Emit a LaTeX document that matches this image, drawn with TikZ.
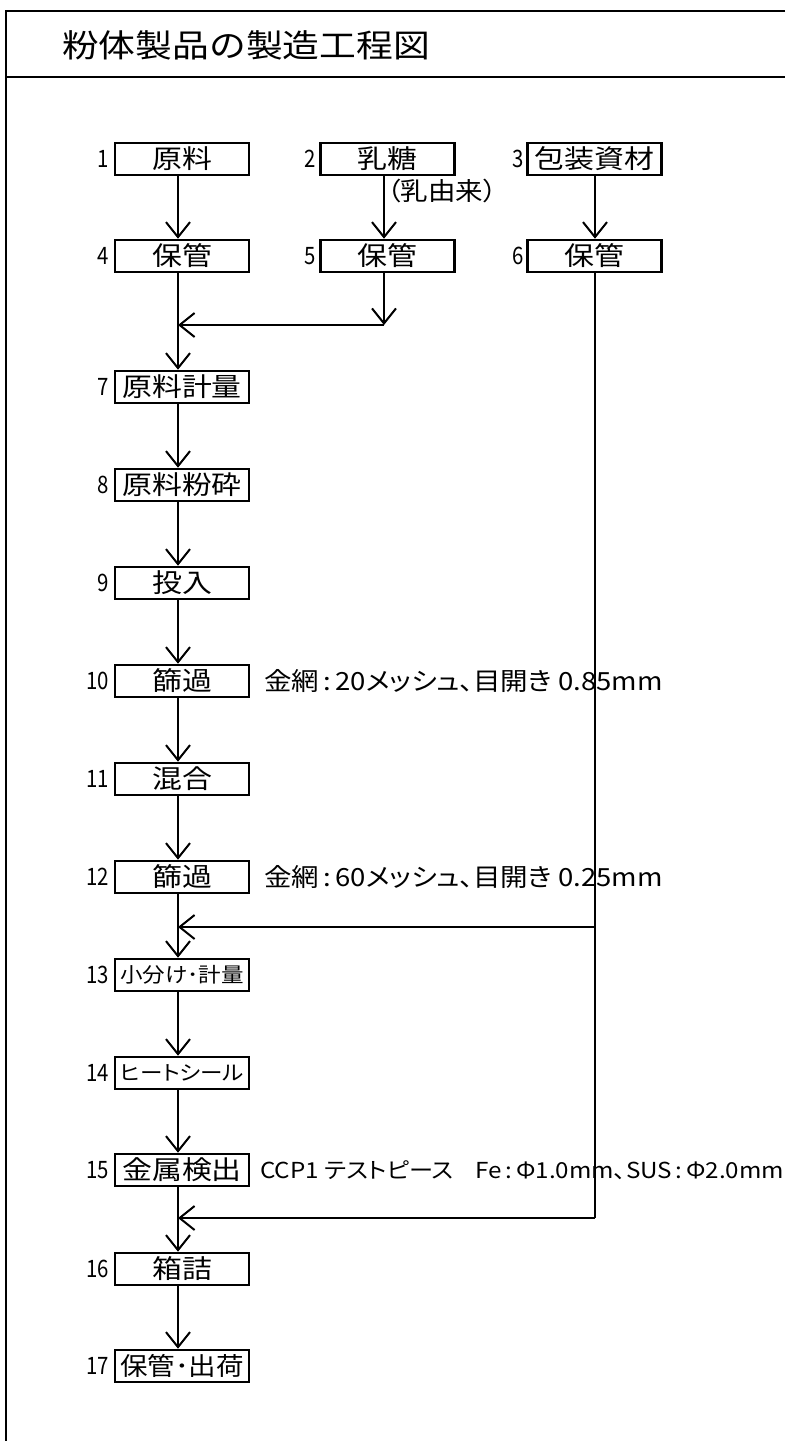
\documentclass[tikz,border=0pt]{standalone}
\usepackage{fontspec}
\setmainfont{Noto Sans CJK JP}
\newfontfamily\boxfont[FakeStretch=1.15]{Noto Sans CJK JP}
\newfontfamily\notefont[FakeStretch=1.1,RawFeature=+palt]{Noto Sans CJK JP}
\newfontfamily\numfont[FakeStretch=0.85]{Noto Sans CJK JP}
\usetikzlibrary{arrows.meta}
\begin{document}
\begin{tikzpicture}[x=1pt,y=-1pt,
  box/.style={draw, line width=2.6pt, minimum width=134pt, minimum height=32pt, inner sep=0pt, font=\boxfont\fontsize{26}{26}\selectfont},
  smallbox/.style={box, font=\notefont\fontsize{20.5}{20.5}\selectfont},
  num/.style={anchor=east, inner sep=0pt, font=\numfont\fontsize{24}{24}\selectfont},
  note/.style={anchor=west, inner sep=0pt, font=\notefont\fontsize{25}{25}\selectfont},
  smallnote/.style={anchor=west, inner sep=0pt, font=\notefont\fontsize{22}{22}\selectfont},
  arr/.style={line width=2pt, -{Straight Barb[length=15pt,width=24pt]}},
  ln/.style={line width=2pt},
  frame/.style={line width=2.6pt}]
\useasboundingbox (0,0) rectangle (785,1441);
% frame
\draw[frame] (785,11) -- (6,11) -- (6,1441);
\draw[frame] (6,77) -- (785,77);
\node[anchor=west, inner sep=0pt, font=\boxfont\fontsize{32}{32}\selectfont] (title) at (62,45) {粉体製品の製造工程図};
% boxes
\node[box] (b1) at (182,159) {原料};
\node[box] (b2) at (387.5,159) {乳糖};
\node[box] (b3) at (594.5,159) {包装資材};
\node[anchor=west, inner sep=0pt, font=\notefont\fontsize{25}{25}\selectfont] (src) at (387,191) {（乳由来）};
\node[box] (b4) at (182,256) {保管};
\node[box] (b5) at (387.5,256) {保管};
\node[box] (b6) at (594.5,256) {保管};
\node[box] (b7) at (182,387) {原料計量};
\node[box] (b8) at (182,485) {原料粉砕};
\node[box] (b9) at (182,583) {投入};
\node[box] (b10) at (182,681) {篩過};
\node[box] (b11) at (182,779) {混合};
\node[box] (b12) at (182,877) {篩過};
\node[smallbox] (b13) at (182,975) {小分け･計量};
\node[smallbox] (b14) at (182,1073) {ヒートシール};
\node[box] (b15) at (182,1170) {金属検出};
\node[box, font=\notefont\fontsize{25}{25}\selectfont] (b17) at (182,1366) {保管･出荷};
\node[box] (b16) at (182,1269) {箱詰};
% numbers
\node[num] (n1) at (109,159) {1};
\node[num] (n2) at (316,159) {2};
\node[num] (n3) at (524,159) {3};
\node[num] (n4) at (109,256) {4};
\node[num] (n5) at (316,256) {5};
\node[num] (n6) at (524,256) {6};
\node[num] (n7) at (109,387) {7};
\node[num] (n8) at (109,485) {8};
\node[num] (n9) at (109,583) {9};
\node[num] (n10) at (109,681) {10};
\node[num] (n11) at (109,779) {11};
\node[num] (n12) at (109,877) {12};
\node[num] (n13) at (109,975) {13};
\node[num] (n14) at (109,1073) {14};
\node[num] (n15) at (109,1170) {15};
\node[num] (n16) at (109,1269) {16};
\node[num] (n17) at (109,1366) {17};
% notes
\node[note] (t10) at (264,681) {金網\,:\,20メッシュ、目開き 0.85mm};
\node[note] (t12) at (264,877) {金網\,:\,60メッシュ、目開き 0.25mm};
\node[smallnote] (t15) at (260,1170) {CCP1 テストピース\quad Fe\,:\,Φ1.0mm、SUS\,:\,Φ2.0mm};
% connectors
\coordinate (m5) at (384,325);
\coordinate (m4) at (178,325);
\coordinate (r2) at (595,927);
\coordinate (l2) at (178,927);
\coordinate (r3) at (595,1218);
\coordinate (l3) at (178,1218);
\draw[arr] ([xshift=-4pt]b1.south) -- ([xshift=-4pt]b4.north);
\draw[arr] ([xshift=-3.5pt]b2.south) -- ([xshift=-3.5pt]b5.north);
\draw[arr] ([xshift=0.5pt]b3.south) -- ([xshift=0.5pt]b6.north);
\draw[arr] ([xshift=-3.5pt]b5.south) -- (m5);
\draw[arr] (m5) -- (m4);
\draw[arr] ([xshift=-4pt]b4.south) -- ([xshift=-4pt]b7.north);
\foreach \a/\b in {7/8,8/9,9/10,10/11,11/12,12/13,13/14,14/15,15/16,16/17}
  \draw[arr] ([xshift=-4pt]b\a.south) -- ([xshift=-4pt]b\b.north);
\draw[ln] ([xshift=0.5pt]b6.south) -- (r3);
\draw[arr] (r2) -- (l2);
\draw[arr] (r3) -- (l3);
\end{tikzpicture}
\end{document}
